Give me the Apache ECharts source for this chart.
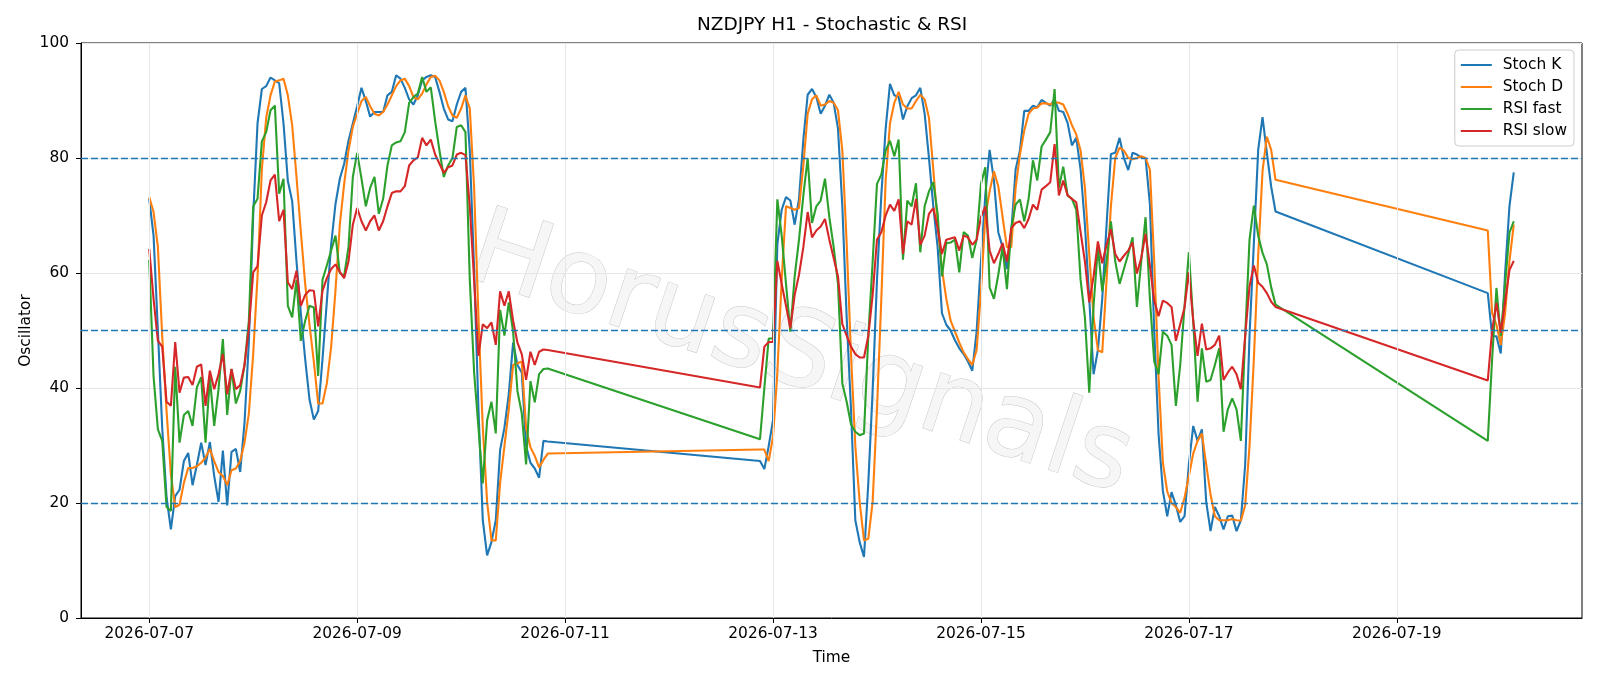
<!DOCTYPE html>
<html>
<head>
<meta charset="utf-8">
<title>NZDJPY H1 - Stochastic & RSI</title>
<script src="https://cdn.jsdelivr.net/npm/echarts@6/dist/echarts.min.js"></script>
<style>
  html, body { margin: 0; padding: 0; background: #fff; }
  #chart { width: 1600px; height: 686px; }
</style>
</head>
<body>
<div id="chart"></div>
<script>
// H1 bars, counted in hours from 2026-07-07 00:00 UTC; no bars over the weekends
const START = Date.UTC(2026, 6, 7, 0, 0);
const sessions = [[0, 93], [141, 120], [309, 7]]; // [first bar hour, number of bars]
const dateTicks = ['2026-07-07', '2026-07-09', '2026-07-11', '2026-07-13', '2026-07-15', '2026-07-17', '2026-07-19'];
const levels = [20, 50, 80];

const stochK = [
  72.9, 66.5, 50, 33, 21, 15.4, 21.2, 22.3, 27.3, 28.7,
  23.1, 26.6, 30.5, 26.6, 30.6, 24.7, 20.2, 29.1, 19.6, 28.9,
  29.4, 25.4, 34, 48, 70, 86, 92, 92.5, 94, 93.5,
  93, 86, 76, 72.5, 62, 53, 45, 38, 34.5, 36,
  45, 55, 65, 72, 76.4, 79, 83, 86, 89, 92.2,
  89.9, 87.2, 88, 88, 88, 90.9, 91.5, 94.4, 93.8, 92.2,
  90.2, 89.3, 90.9, 93.5, 94.1, 94.4, 94.1, 91.5, 88.6, 86.7,
  86.4, 89.3, 91.5, 92.2, 81.3, 60.7, 36.3, 17, 10.9, 13.2,
  17, 29.2, 33.1, 38.9, 47.9, 44, 42.7, 29.9, 27, 26,
  24.4, 30.8, 30.7,
  27.3, 25.9, 29.9, 34.4, 65, 71, 73.2, 72.6, 68.4, 72.9,
  83.2, 91, 92, 90.6, 87.7, 89.1, 91, 89.6, 85.1, 71.6,
  52.3, 36.3, 17, 13.2, 10.6, 23.5, 39.5, 58.8, 73.5, 85.1,
  92.9, 90.9, 90.6, 86.7, 89, 90.4, 90.9, 92.2, 87.7, 80,
  71.6, 64.5, 53, 51, 50, 48.3, 46.9, 45.9, 44.6, 43,
  49.8, 62, 73.5, 81.4, 76.1, 67.1, 64.5, 60.7, 67.1, 78,
  81.3, 88.2, 88.2, 89.1, 88.8, 90.1, 89.6, 89.1, 90.2, 88.2,
  88, 86.1, 82.2, 83.5, 78, 68.4, 55.5, 42.4, 46.6, 55.5,
  68.4, 80.7, 80.9, 83.5, 80, 77.9, 80.9, 80.6, 80.1, 80,
  72, 50, 32, 22.1, 17.7, 21.9, 19.6, 16.7, 17.7, 26.7,
  33.4, 30.8, 32.8, 20.2, 15.1, 19.3, 17.7, 15.4, 17.7, 17.8,
  15.1, 17, 26.7, 49.1, 65.2, 81.4, 87.1, 80.9, 75, 70.7,
  56.5, 49, 49, 46, 60, 71.6, 77.5
];
const stochD = [
  73.2, 70.6, 64.5, 49, 36, 25, 19.3, 19.7, 23.5, 26.1,
  26.1, 26.4, 27, 27.9, 29.4, 27.3, 25.4, 24.7, 23.1, 25.7,
  26, 27.3, 30.5, 35.6, 45.9, 59.4, 78, 87, 90.9, 93.3,
  93.5, 93.8, 90.9, 85.7, 76.7, 67.1, 58.1, 51, 44.6, 37.3,
  37.3, 40.8, 47.2, 57, 68.4, 75.5, 81.3, 85.4, 87.7, 89.9,
  90.6, 89, 87.7, 87.4, 88, 89.3, 90.9, 92.5, 93.5, 93.8,
  92.5, 90.6, 90.2, 91.2, 92.8, 94.1, 94.3, 93.5, 91.5, 89,
  87.4, 87, 88.6, 90.9, 88.6, 74.8, 52.3, 33.1, 20.2, 13.5,
  13.5, 23.5, 29.9, 36.3, 44, 44.3, 44.6, 33, 29.7, 28.2,
  26.2, 27.5, 28.6,
  29.3, 29.3, 27.3, 31.5, 42.7, 58.8, 71.6, 71.3, 71, 71.3,
  78.7, 87.7, 90.2, 90.9, 89.1, 89.3, 89.9, 89.6, 88.3, 81.3,
  65.2, 45.9, 29.9, 20.2, 13.5, 13.8, 20.2, 36.3, 55.5, 76.1,
  86, 89.6, 91.5, 89.3, 88.6, 88.6, 89.9, 91, 90.2, 87,
  78, 68.4, 60.7, 55.5, 51.7, 49.8, 47.9, 46.2, 45, 44,
  46.6, 56.8, 69.7, 74.2, 77.7, 75.1, 69.7, 64.5, 64.5, 74.8,
  80.6, 84.8, 87.7, 88.6, 88.8, 89.5, 89.5, 89.3, 89.7, 89.6,
  89.3, 87.7, 85.7, 84.1, 81.3, 74.8, 63.3, 52.3, 46.6, 46.2,
  58.8, 71.6, 80, 81.8, 81.3, 80, 79.8, 80, 80.3, 80,
  78, 62, 42, 27, 22, 20, 19.3, 18.3, 20.9, 24.7,
  28.6, 30.8, 32.1, 26.7, 21.5, 17.7, 17, 17, 17, 17.2,
  17, 16.9, 19.6, 29.9, 45, 63, 77.7, 83.7, 81.4, 76.2,
  67.4, 53, 51, 47.5, 53, 62, 68.4
];
const rsiFast = [
  62.3, 42, 32.8, 30.8, 19.3, 18.6, 43.7, 30.5, 35.3, 36,
  33.4, 40.1, 41.9, 30.5, 41.8, 33.4, 39.8, 48.5, 35.3, 43.3,
  37.3, 39.5, 44, 51.7, 71.6, 72.9, 82.9, 84.5, 88.3, 89.1,
  73.8, 76.4, 54.3, 52.3, 58.8, 48.2, 51.7, 54.3, 54, 42.1,
  58.8, 61.3, 63.9, 66.5, 60, 59.5, 64.5, 76.7, 80.9, 76.4,
  71.6, 74.8, 76.7, 70.3, 72.9, 78.7, 82.2, 82.7, 82.9, 84.5,
  89.6, 90.6, 91.2, 94.1, 91.5, 92.3, 86.4, 81.3, 76.7, 78.7,
  80, 85.4, 85.7, 84.5, 58.8, 42.7, 33.1, 23.4, 34.4, 37.6,
  32.1, 53.6, 49.1, 54.9, 49.8, 39.5, 35.6, 26.7, 41.2, 37.5,
  42.4, 43.3, 43.4,
  31.1, 40, 48.6, 48.6, 72.8, 66.5, 58.1, 49.8, 59.4, 65.8,
  73.5, 80, 68.7, 71.6, 72.6, 76.4, 69.7, 64.5, 58.1, 40.8,
  37.6, 33.7, 32.4, 31.8, 32.1, 49.1, 62, 75.5, 77.1, 81.3,
  83, 80.3, 83.2, 62.3, 72.6, 71.6, 75.6, 63.6, 71.6, 74.2,
  75.8, 70.3, 59.4, 65.2, 65.3, 65.8, 60.1, 67.1, 66.5, 62.6,
  65.8, 75.5, 78.4, 57.5, 55.5, 59.7, 64.5, 57.2, 67.8, 71.9,
  72.8, 69, 72.9, 79.6, 76.1, 82, 83.2, 84.5, 92, 74.8,
  78.5, 73.5, 72.9, 71, 58.8, 52.3, 39.2, 54.3, 64.5, 56.8,
  62, 69, 62, 58.1, 60.7, 63.3, 66.2, 54.1, 62, 69.7,
  55.5, 44.6, 42.4, 49.8, 49.1, 47.5, 36.9, 44, 54.3, 63.6,
  51.7, 37.6, 46.9, 41.1, 41.4, 44, 46.9, 32.4, 36.3, 38.2,
  36.3, 30.8, 49.1, 65.8, 71.7, 66.5, 63.5, 61.5, 57.5, 54.5,
  30.8, 45, 57.4, 49, 58, 67, 69
];
const rsiSlow = [
  64.2, 55.5, 48.2, 47.2, 37.6, 36.9, 48, 39.2, 41.8, 41.9,
  40.5, 43.7, 44.1, 36.9, 43, 39.8, 42.4, 45.9, 38.9, 43.3,
  39.8, 40.5, 44, 50.4, 60.1, 61.2, 70, 72.3, 76.1, 77.1,
  69, 71, 58.4, 57.2, 60.4, 54.3, 56.2, 57, 56.9, 50.7,
  56.9, 59.1, 60.7, 61.5, 60.2, 59.1, 62, 68.4, 71.3, 69,
  67.4, 69, 70, 67.4, 69, 71.6, 73.9, 74.2, 74.2, 75.1,
  78.7, 79.6, 80.1, 83.5, 82.2, 83.2, 80.6, 79, 77.4, 78.4,
  78.7, 80.6, 80.9, 80.5, 71.6, 58.8, 45.6, 51.1, 50.4, 51.4,
  47.5, 56.8, 54.3, 56.8, 51.7, 47.9, 45.9, 41.4, 46.3, 44,
  46.3, 46.7, 46.6,
  40.1, 47.2, 48, 48, 62.1, 58.1, 54.3, 50.4, 56.2, 59.7,
  64.5, 70.6, 66.2, 67.4, 68.1, 69.4, 65.8, 62.6, 59.4, 51.1,
  49.1, 47.2, 45.9, 45.3, 45.3, 49.1, 56.2, 65.8, 67.1, 70,
  71.9, 70.8, 72.8, 63.3, 69, 68.4, 72.9, 64.9, 66.5, 70.3,
  71.3, 67.8, 63.3, 65.8, 66, 66.2, 63.9, 66.5, 66.2, 64.9,
  65.8, 69.7, 71.6, 63.9, 61.7, 63.3, 65.2, 62, 67.8, 68.7,
  69, 67.8, 69.4, 71.9, 71, 74.5, 75.1, 75.8, 82.4, 73.5,
  76.1, 73.5, 72.9, 72.3, 67.1, 62, 54.9, 59.4, 65.5, 61.7,
  64.9, 67.6, 63.3, 62, 63, 63.9, 65.3, 59.9, 62.6, 66.8,
  61.3, 55.2, 52.5, 55.2, 54.8, 54.1, 48.2, 51.1, 54, 60.1,
  51.7, 45.6, 51.2, 46.7, 46.9, 47.5, 49.1, 41.4, 42.7, 43.7,
  42.4, 39.8, 49.1, 57.7, 61.3, 58.3, 57.6, 56.5, 55, 54.1,
  41.3, 50, 54.8, 49.6, 55, 60.5, 62.1
];

const HOUR = 3600000;
const hours = [];
sessions.forEach(([from, n]) => {
  for (let i = 0; i < n; i++) hours.push(from + i);
});
const tickHours = dateTicks.map(d => (Date.parse(d + 'T00:00:00Z') - START) / HOUR);
const toDate = h => new Date(START + h * HOUR).toISOString().slice(0, 10);

// matplotlib-like 5% margins on the time axis
const first = hours[0], last = hours[hours.length - 1];
const pad = (last - first) * 0.05;

const FONT = 'DejaVu Sans';
const FS = 15.4;
const pairs = arr => hours.map((h, i) => [h, arr[i]]);

const lineSeries = (name, arr, color) => ({
  name,
  type: 'line',
  data: pairs(arr),
  showSymbol: false,
  symbol: 'none',
  color,
  lineStyle: { color, width: 2.1 },
  z: 3
});

const chart = echarts.init(document.getElementById('chart'), null, { renderer: 'canvas' });

chart.setOption({
  animation: false,
  backgroundColor: '#fff',
  textStyle: { fontFamily: FONT },
  title: {
    text: 'NZDJPY H1 - Stochastic & RSI',
    left: 692,
    top: 11,
    textStyle: { fontFamily: FONT, fontSize: 18.5, fontWeight: 'normal', color: '#000' }
  },
  legend: {
    data: ['Stoch K', 'Stoch D', 'RSI fast', 'RSI slow'],
    orient: 'vertical',
    right: 26,
    top: 50,
    icon: 'rect',
    itemWidth: 31,
    itemHeight: 2,
    itemGap: 6,
    padding: [7, 7, 7, 6],
    backgroundColor: 'rgba(255,255,255,0.85)',
    borderColor: '#cccccc',
    borderWidth: 1,
    borderRadius: 4,
    textStyle: { fontFamily: FONT, fontSize: FS, lineHeight: 16, color: '#000', padding: [0, 0, 0, 6] }
  },
  grid: {
    left: 81, right: 18, top: 43, bottom: 68,
    show: true, borderColor: '#000', borderWidth: 1, backgroundColor: 'transparent'
  },
  xAxis: {
    type: 'value',
    min: first - pad,
    max: last + pad,
    name: 'Time',
    nameLocation: 'middle',
    nameGap: 32,
    nameMoveOverlap: false,
    nameTextStyle: { fontFamily: FONT, fontSize: FS, color: '#000' },
    axisLine: { show: true, onZero: false, lineStyle: { color: '#000', width: 1 } },
    axisTick: { show: true, length: 5, customValues: tickHours, lineStyle: { color: '#000' } },
    axisLabel: {
      customValues: tickHours,
      formatter: v => toDate(v),
      fontFamily: FONT, fontSize: FS, color: '#000', margin: 8
    },
    splitLine: { show: false }
  },
  yAxis: {
    type: 'value',
    min: 0,
    max: 100,
    interval: 20,
    name: 'Oscillator',
    nameLocation: 'middle',
    nameGap: 48,
    nameMoveOverlap: false,
    nameTextStyle: { fontFamily: FONT, fontSize: FS, color: '#000' },
    axisLine: { show: true, onZero: false, lineStyle: { color: '#000', width: 1 } },
    axisTick: { show: true, length: 5, lineStyle: { color: '#000' } },
    axisLabel: { fontFamily: FONT, fontSize: FS, color: '#000', margin: 12 },
    splitLine: { show: true, lineStyle: { color: '#e6e6e6', width: 1 } }
  },
  graphic: [{
    type: 'text',
    x: 800,
    y: 358,
    rotation: -0.32,
    z: 0,
    silent: true,
    style: {
      text: 'HorusSignals',
      font: '106px "DejaVu Sans"',
      textAlign: 'center',
      textVerticalAlign: 'middle',
      fill: '#f6f6f6',
      stroke: 'rgba(185,185,185,0.8)',
      lineWidth: 1,
      shadowColor: 'rgba(0,0,0,0.4)',
      shadowBlur: 4,
      shadowOffsetX: 3,
      shadowOffsetY: 4
    }
  }],
  series: [
    {
      // vertical grid lines at the date ticks + the 20/50/80 reference levels
      name: 'grid',
      type: 'line',
      data: [],
      z: 1,
      silent: true,
      markLine: {
        silent: true,
        symbol: 'none',
        label: { show: false },
        data: tickHours.map(h => ({ xAxis: h, lineStyle: { color: '#e6e6e6', width: 1, type: 'solid' } }))
          .concat(levels.map(v => ({ yAxis: v, lineStyle: { color: '#1f77b4', width: 1.4, type: [7, 3] } })))
      }
    },
    lineSeries('Stoch K', stochK, '#1f77b4'),
    lineSeries('Stoch D', stochD, '#ff7f0e'),
    lineSeries('RSI fast', rsiFast, '#2ca02c'),
    lineSeries('RSI slow', rsiSlow, '#d62728')
  ]
});
</script>
</body>
</html>
